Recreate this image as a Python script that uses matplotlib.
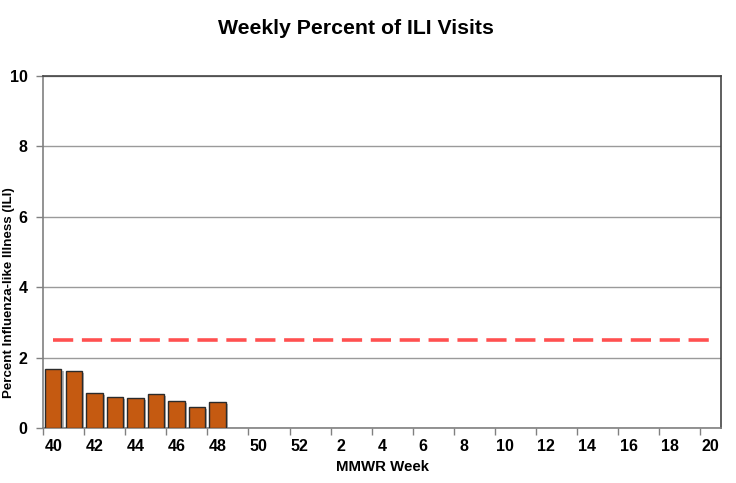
import matplotlib
matplotlib.use("Agg")
import matplotlib.pyplot as plt
import matplotlib.patheffects as pe
import numpy as np

plt.rcParams['font.family'] = ['Liberation Sans', 'DejaVu Sans']

weeks = [40, 41, 42, 43, 44, 45, 46, 47, 48, 49, 50, 51, 52] + list(range(1, 21))
ili_pct = [1.68, 1.61, 0.99, 0.89, 0.85, 0.96, 0.76, 0.60, 0.75]
baseline = [2.5] * len(weeks)

fig = plt.figure(figsize=(7.36, 4.83), dpi=100)
ax = fig.add_axes([43/736, 1 - 428/483, (721-43)/736, (428-75.7)/483])

x = np.arange(len(weeks))
ax.bar(x[:len(ili_pct)], ili_pct, width=0.8, color='#C55A11', edgecolor='#2b2b2b', linewidth=1.0,
       zorder=3, path_effects=[pe.SimplePatchShadow(offset=(1.5, -1.5), shadow_rgbFace='#808080', alpha=0.6), pe.Normal()])
ax.plot(x, baseline, color='#FF5050', linewidth=2.6, linestyle=(0, (5.6, 2.4)), zorder=4, dash_capstyle='butt')

ax.set_xlim(-0.5, len(weeks) - 0.5)
ax.set_ylim(0, 10)
ax.set_yticks([0, 2, 4, 6, 8, 10])
ax.yaxis.grid(True, color='#9a9a9a', linewidth=1.0, zorder=0)
ax.set_axisbelow(True)

# major ticks at category boundaries (every 2), labels at centres
ax.set_xticks(np.arange(-0.5, len(weeks) - 1, 2))
ax.set_xticklabels([])
ax.set_xticks(x[::2], minor=True)
ax.set_xticklabels([str(w) for w in weeks[::2]], minor=True, fontsize=11.5, fontweight='bold')
ax.tick_params(axis='x', which='minor', length=0, pad=8)
ax.tick_params(axis='x', which='major', length=5, direction='out', color='#808080', width=1)
ax.tick_params(axis='y', length=5, direction='out', color='#808080', width=1, labelsize=11.5, pad=6)
for lab in ax.get_yticklabels():
    lab.set_fontweight('bold')

for s in ['left', 'bottom']:
    ax.spines[s].set_color('#808080')
    ax.spines[s].set_linewidth(1.2)
for s in ['top', 'right']:
    ax.spines[s].set_color('#444444')
    ax.spines[s].set_linewidth(1.2)

ax.set_xlabel('MMWR Week', fontsize=10.8, fontweight='bold', labelpad=4)
fig.text(9/736, 1 - 293/483, 'Percent Influenza-like Illness (ILI)', ha='center', va='center',
         rotation=90, fontsize=9.6, fontweight='bold')
fig.text(356/736, 1 - 28/483, 'Weekly Percent of ILI Visits', ha='center', va='center',
         fontsize=15.3, fontweight='bold')

fig.savefig('out.png', dpi=100)
